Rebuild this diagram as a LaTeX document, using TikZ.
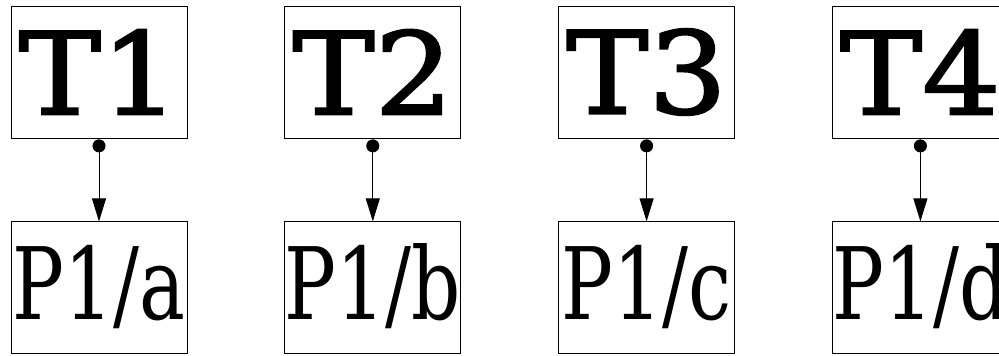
\documentclass[tikz,border=0pt]{standalone}
\usepackage{fontspec}
\setmainfont{DejaVu Serif}
\newfontfamily\wideserif[FakeStretch=1.08,FakeBold=2]{DejaVu Serif}
\newfontfamily\condserif[FakeStretch=0.77]{DejaVu Serif}
\usetikzlibrary{positioning, arrows.meta}

\begin{document}
\begin{tikzpicture}[
    node distance=83pt and 97pt,
    task/.style={draw, line width=0.8pt, minimum width=176pt, minimum height=132pt,
      inner sep=0pt, font=\wideserif\fontsize{114}{114}\selectfont},
    part/.style={draw, line width=0.8pt, minimum width=176pt, minimum height=132pt,
      inner sep=0pt, text height=73pt, text depth=9pt,
      font=\condserif\fontsize{100}{100}\selectfont},
    link/.style={draw, line width=0.8pt, shorten <=1pt,
      {Circle[length=13pt]}-{Triangle[length=23pt,width=14pt]}},
]
  \useasboundingbox (0,0) rectangle (999pt,-356pt);
  \node[task] (t1) at (99pt,-72pt) {T1};
  \node[task, right=of t1] (t2) {T2};
  \node[task, right=of t2] (t3) {T3};
  \node[task, right=of t3] (t4) {T4};
  \node[part, below=of t1] (p1) {P1/a};
  \node[part, below=of t2] (p2) {P1/b};
  \node[part, below=of t3] (p3) {P1/c};
  \node[part, below=of t4] (p4) {P1/d};
  \foreach \i in {1,...,4}
    \path[link] (t\i) -- (p\i);
\end{tikzpicture}
\end{document}
